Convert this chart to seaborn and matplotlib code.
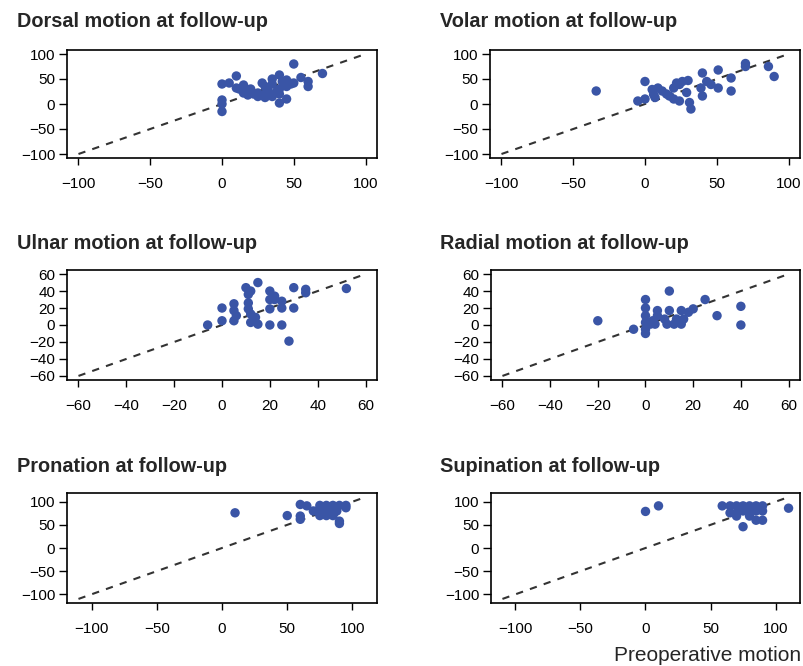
import numpy as np
import pandas as pd
import matplotlib
matplotlib.use("Agg")
import matplotlib.pyplot as plt
import seaborn as sns

# Preoperative (x) vs follow-up (y) range of motion, in degrees
dorsal_pre = [0, 0, 0, 0, 5, 10, 10, 12, 15, 15, 18, 20, 20, 22, 25, 25, 28, 30, 30, 30,
              32, 35, 35, 35, 38, 40, 40, 40, 40, 42, 45, 45, 45, 48, 50, 50, 55, 60, 60, 70]
dorsal_post = [40, 8, 0, -15, 42, 56, 32, 30, 38, 22, 18, 30, 25, 20, 15, 22, 42, 35, 20, 13,
               28, 50, 40, 15, 25, 58, 30, 20, 2, 45, 48, 35, 10, 40, 80, 42, 53, 45, 35, 61]

volar_pre = [-34, 0, -5, 0, 5, 9, 6, 7, 12, 15, 17, 20, 22, 24, 26, 30, 29, 31, 32,
             20, 24, 40, 39, 40, 43, 46, 51, 51, 60, 60, 70, 70, 86, 90]
volar_post = [26, 45, 6, 10, 29, 32, 19, 13, 26, 20, 16, 32, 42, 39, 45, 47, 23, 3, -10,
              10, 6, 62, 32, 16, 45, 39, 68, 32, 52, 26, 81, 75, 75, 55]

ulnar_pre = [-6, 0, 0, 5, 5, 5, 6, 10, 11, 11, 11, 12, 12, 15, 14, 15, 12, 20, 20, 20, 20,
             22, 22, 25, 25, 25, 28, 30, 30, 35, 35, 52]
ulnar_post = [0, 20, 5, 25, 17, 5, 11, 44, 36, 26, 19, 13, 40, 50, 9, 1, 3, 40, 30, 19, 0,
              30, 34, 28, 20, 0, -19, 44, 20, 42, 38, 43]

radial_pre = [-20, -5, 0, 0, 0, 0, 0, 0, 10, 5, 5, 4, 8, 9, 10, 12, 13, 15, 15, 16,
              18, 20, 25, 30, 40, 40, 2, 3]
radial_post = [5, -5, 30, 20, 11, 3, -5, -10, 40, 17, 11, 1, 7, 1, 17, 1, 7, 17, 1, 7,
               15, 19, 30, 11, 22, 0, 1, 5]

pronation_pre = [10, 50, 60, 60, 60, 65, 70, 75, 80, 85, 90, 95, 73, 78, 83, 88,
                 75, 80, 85, 90, 90, 95, 86]
pronation_post = [76, 70, 94, 69, 62, 91, 80, 92, 92, 92, 92, 92, 80, 80, 80, 80,
                  70, 70, 70, 58, 53, 87, 76]

supination_pre = [0, 10, 59, 65, 70, 75, 80, 85, 90, 65, 70, 75, 80, 85, 90,
                  70, 75, 80, 85, 90, 110]
supination_post = [79, 91, 91, 91, 91, 91, 91, 91, 91, 76, 76, 80, 80, 80, 80,
                   69, 46, 69, 60, 60, 86]

titles = ["Dorsal motion at follow-up", "Volar motion at follow-up",
          "Ulnar motion at follow-up", "Radial motion at follow-up",
          "Pronation at follow-up", "Supination at follow-up"]

sns.set_style("white")
plt.rcParams.update({
    "font.family": ["Liberation Sans", "DejaVu Sans"],
    "axes.linewidth": 1.2,
    "xtick.major.size": 5,
    "ytick.major.size": 6,
    "xtick.major.width": 1.0,
    "ytick.major.width": 1.0,
    "xtick.direction": "out",
    "ytick.direction": "out",
    "xtick.bottom": True,
    "ytick.left": True,
})

BLUE = "#3a55a6"
W, H = 804, 666


def _axes_px(fig, x0, y0, x1, y1):
    """Create an axes from a pixel box measured from the top-left corner."""
    return fig.add_axes([x0 / W, 1 - y1 / H, (x1 - x0) / W, (y1 - y0) / H])


def painel(ax, pre, post, limite, ticks):
    """One scatter panel with the identity line, R base-graphics look."""
    df = pd.DataFrame({"pre": pre, "post": post})
    ax.plot([-limite, limite], [-limite, limite], color="#333333",
            linestyle=(0, (3.5, 3.5)), linewidth=1.5, zorder=1)
    sns.scatterplot(data=df, x="pre", y="post", ax=ax, color=BLUE, s=46,
                    edgecolor="none", linewidth=0, zorder=2)
    lim = limite * 1.08
    ax.set_xlim(-lim, lim)
    ax.set_ylim(-lim, lim)
    ax.set_xticks(ticks)
    ax.set_yticks(ticks)
    ax.set_xlabel("")
    ax.set_ylabel("")
    ax.tick_params(axis="x", labelsize=11, pad=9, colors="black")
    ax.tick_params(axis="y", labelsize=11, pad=2.5, colors="black")
    for s in ax.spines.values():
        s.set_visible(True)
        s.set_color("black")


fig = plt.figure(figsize=(W / 100, H / 100), dpi=100)

t100 = [-100, -50, 0, 50, 100]
t60 = [-60, -40, -20, 0, 20, 40, 60]

caixas = [
    (67, 50, 377, 158), (490, 50, 800, 158),
    (67, 270, 377, 380), (491, 270, 800, 380),
    (67, 493, 377, 603), (491, 493, 800, 603),
]
dados = [
    (dorsal_pre, dorsal_post, 100, t100),
    (volar_pre, volar_post, 100, t100),
    (ulnar_pre, ulnar_post, 60, t60),
    (radial_pre, radial_post, 60, t60),
    (pronation_pre, pronation_post, 110, t100),
    (supination_pre, supination_post, 110, t100),
]
titulo_y = [27, 27, 249, 249, 472, 472]
titulo_x = [17, 440, 17, 440, 17, 440]

for caixa, (pre, post, limite, ticks), titulo, tx, ty in zip(caixas, dados, titles, titulo_x, titulo_y):
    ax = _axes_px(fig, *caixa)
    painel(ax, pre, post, limite, ticks)
    fig.text(tx / W, 1 - ty / H, titulo, fontsize=14.3, fontweight="bold",
             ha="left", va="baseline")

fig.text(801 / W, 1 - 661 / H, "Preoperative motion", fontsize=15,
         ha="right", va="baseline")

fig.savefig("out.png", dpi=100)
